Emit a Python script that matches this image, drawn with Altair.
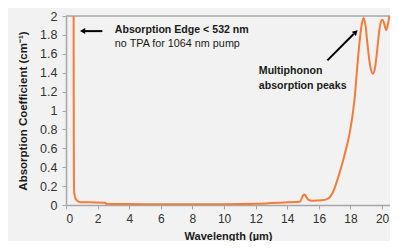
import altair as alt
import pandas as pd

# Absorption spectrum (wavelength in µm, absorption coefficient in cm^-1)
wavelength = [0.480, 0.490, 0.500, 0.520, 0.60, 0.75, 0.90, 1.5, 2.5, 2.52, 4.0, 6.0, 8.0,
              10.0, 12.0, 13.0, 14.0, 14.8, 15.0, 15.1, 15.3, 15.6, 16.2, 16.6, 16.9, 17.2,
              17.45, 17.7, 17.95, 18.25, 18.5, 18.7, 18.83, 18.95, 19.07, 19.25, 19.42,
              19.55, 19.69, 19.85, 20.0, 20.12, 20.25, 20.35, 20.5, 20.6]
absorption = [2.4, 1.0, 0.3, 0.13, 0.07, 0.04, 0.03, 0.028, 0.025, 0.012, 0.01, 0.008, 0.008,
              0.008, 0.012, 0.02, 0.028, 0.035, 0.10, 0.11, 0.06, 0.045, 0.05, 0.07, 0.14, 0.28,
              0.42, 0.58, 0.76, 1.11, 1.6, 1.9, 1.98, 1.9, 1.71, 1.47, 1.39,
              1.45, 1.64, 1.88, 1.96, 1.93, 1.85, 1.9, 2.05, 2.2]

x_ticks = [0, 2, 4, 6, 8, 10, 12, 14, 16, 18, 20]
y_ticks = [0, 0.2, 0.4, 0.6, 0.8, 1.0, 1.2, 1.4, 1.6, 1.8, 2.0]

# Annotations
bold_text = ["Absorption Edge < 532 nm", "Multiphonon", "absorption peaks"]
bold_x = [3.09, 12.2, 12.2]
bold_y = [1.85, 1.42, 1.26]
plain_text = ["no TPA for 1064 nm pump"]
plain_x = [3.09]
plain_y = [1.70]

arrow_x = [2.3, 16.54]
arrow_y = [1.84, 1.53]
arrow_x2 = [1.2, 18.2]
arrow_y2 = [1.84, 1.81]
head_x = [1.05, 18.33]
head_y = [1.84, 1.83]
head_shape = ["triangle-left", "triangle-up"]
head_angle = [0, 46]

frame_y = [2.0]

df = pd.DataFrame({"wl": wavelength, "a": absorption})
bold_df = pd.DataFrame({"t": bold_text, "x": bold_x, "y": bold_y})
plain_df = pd.DataFrame({"t": plain_text, "x": plain_x, "y": plain_y})
arrows = pd.DataFrame({"x": arrow_x, "y": arrow_y, "x2": arrow_x2, "y2": arrow_y2})
heads = pd.DataFrame({"x": head_x, "y": head_y, "s": head_shape, "ang": head_angle})
frame = pd.DataFrame({"y": frame_y})

xs = alt.Scale(domain=[0, 20.5], nice=False, zero=False)
ys = alt.Scale(domain=[0, 2], nice=False)

x_axis = alt.Axis(values=x_ticks, tickCount=30, title="Wavelength (\u00b5m)", format="d",
                  titlePadding=6, labelOverlap=False, labelFontSize=12, labelPadding=4)
y_axis = alt.Axis(values=y_ticks, tickCount=30, title="Absorption Coefficient (cm\u207b\u00b9)",
                  format=".1~f", titlePadding=11, labelOverlap=False, labelFontSize=12.5,
                  labelPadding=5, titleFontSize=11.5)

line = alt.Chart(df).mark_line(color="#F47B38", strokeWidth=2, clip=True,
                               interpolate="monotone").encode(
    x=alt.X("wl:Q", scale=xs, axis=x_axis),
    y=alt.Y("a:Q", scale=ys, axis=y_axis),
)

top_rule = alt.Chart(frame).mark_rule(color="#a6a6a6", strokeWidth=1.5).encode(
    y=alt.Y("y:Q", scale=ys, axis=y_axis), x=alt.value(0), x2=alt.value(324)
)

text_bold = alt.Chart(bold_df).mark_text(align="left", baseline="middle", font="Liberation Sans",
                                         fontSize=10.6, fontWeight="bold", color="#1a1a1a").encode(
    x=alt.X("x:Q", scale=xs, axis=x_axis), y=alt.Y("y:Q", scale=ys, axis=y_axis), text="t:N",
)
text_plain = alt.Chart(plain_df).mark_text(align="left", baseline="middle", font="Liberation Sans",
                                           fontSize=10.8, color="#1a1a1a").encode(
    x=alt.X("x:Q", scale=xs, axis=x_axis), y=alt.Y("y:Q", scale=ys, axis=y_axis), text="t:N",
)

rules = alt.Chart(arrows).mark_rule(color="black", strokeWidth=2).encode(
    x=alt.X("x:Q", scale=xs, axis=x_axis), y=alt.Y("y:Q", scale=ys, axis=y_axis),
    x2="x2:Q", y2="y2:Q"
)

tips = alt.Chart(heads).mark_point(filled=True, color="black", size=36, opacity=1).encode(
    x=alt.X("x:Q", scale=xs, axis=x_axis), y=alt.Y("y:Q", scale=ys, axis=y_axis),
    shape=alt.Shape("s:N", scale=None, legend=None),
    angle=alt.Angle("ang:Q", scale=None),
)

chart = alt.layer(top_rule, line, rules, tips, text_bold, text_plain).properties(
    width=324, height=189,
    background="#f2f2f2",
    autosize=alt.AutoSizeParams(type="none"),
    padding={"left": 58, "top": 8, "right": 0, "bottom": 36},
).configure_view(stroke=None).configure_axis(
    grid=False, domainColor="#a6a6a6", tickColor="#a6a6a6", domainWidth=1.5,
    tickSize=4, labelFont="Liberation Sans", labelColor="#333333",
    titleFont="Liberation Sans", titleFontSize=11, titleFontWeight="bold",
    titleColor="#1a1a1a",
)

chart.save("out.html", embed_options={"renderer": "svg", "actions": False})
